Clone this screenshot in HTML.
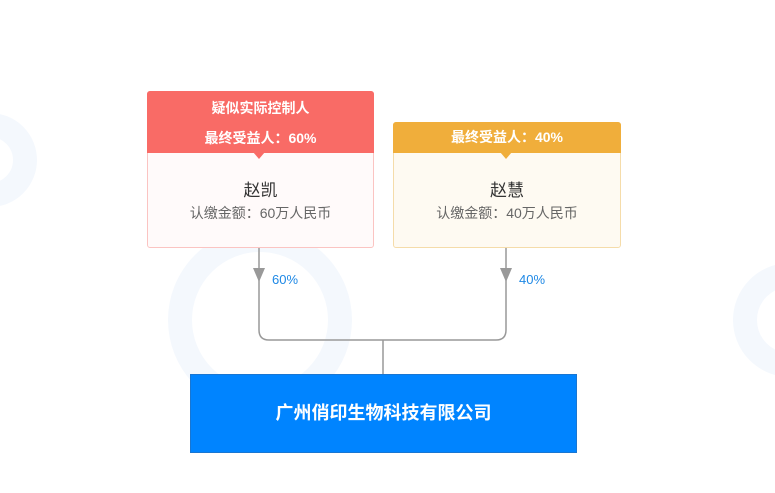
<!DOCTYPE html>
<html><head><meta charset="utf-8"><style>
body{margin:0;width:775px;height:493px;background:#fff;position:relative;overflow:hidden;font-family:"Liberation Sans","Noto Sans CJK SC",sans-serif}
.a{position:absolute;box-sizing:border-box}
.c{text-align:center}
</style></head><body>
<svg class="a" style="left:0;top:0" width="775" height="493">
<g fill="none" stroke="#f4f8fd" stroke-width="24">
<circle cx="260" cy="320" r="80"/>
<circle cx="790" cy="320" r="45"/>
<circle cx="-10" cy="160" r="35"/>
</g>
<path d="M259 247V330Q259 340 269 340H496Q506 340 506 330V247M383 340V374" fill="none" stroke="#999" stroke-width="1.5"/>
<path d="M253 268H265L259 282Z M500 268H512L506 282Z" fill="#999"/>
<text x="272" y="284" font-size="13" fill="#1e88e5" font-family="Liberation Sans">60%</text>
<text x="519" y="284" font-size="13" fill="#1e88e5" font-family="Liberation Sans">40%</text>
</svg>
<div class="a" style="left:147px;top:91px;width:227px;height:157px;border:1px solid #fbc4c2;background:#fffafa;border-radius:3px"></div>
<div class="a c" style="left:147px;top:91px;width:227px;height:62px;background:#f96b66;color:#fff;font-weight:bold;font-size:14px;line-height:30px;padding-top:2px;border-radius:3px 3px 0 0">疑似实际控制人<br>最终受益人：60%</div>
<div class="a" style="left:253px;top:152px;border-left:6px solid transparent;border-right:6px solid transparent;border-top:7px solid #f96b66"></div>
<div class="a c" style="left:147px;top:176px;width:227px;font-size:17px;color:#333">赵凯</div>
<div class="a c" style="left:147px;top:203px;width:227px;font-size:14px;color:#666">认缴金额：60万人民币</div>

<div class="a" style="left:393px;top:122px;width:228px;height:126px;border:1px solid #f5dcaa;background:#fefaf2;border-radius:3px"></div>
<div class="a c" style="left:393px;top:122px;width:228px;height:31px;background:#f0ae3b;color:#fff;font-weight:bold;font-size:14px;line-height:31px;border-radius:3px 3px 0 0">最终受益人：40%</div>
<div class="a" style="left:500px;top:152px;border-left:6px solid transparent;border-right:6px solid transparent;border-top:7px solid #f0ae3b"></div>
<div class="a c" style="left:393px;top:176px;width:228px;font-size:17px;color:#333">赵慧</div>
<div class="a c" style="left:393px;top:203px;width:228px;font-size:14px;color:#666">认缴金额：40万人民币</div>

<div class="a c" style="left:190px;top:374px;width:387px;height:79px;background:#0084ff;border:1px solid #1976d2;color:#fff;font-weight:bold;font-size:18px;line-height:77px">广州俏印生物科技有限公司</div>
</body></html>
